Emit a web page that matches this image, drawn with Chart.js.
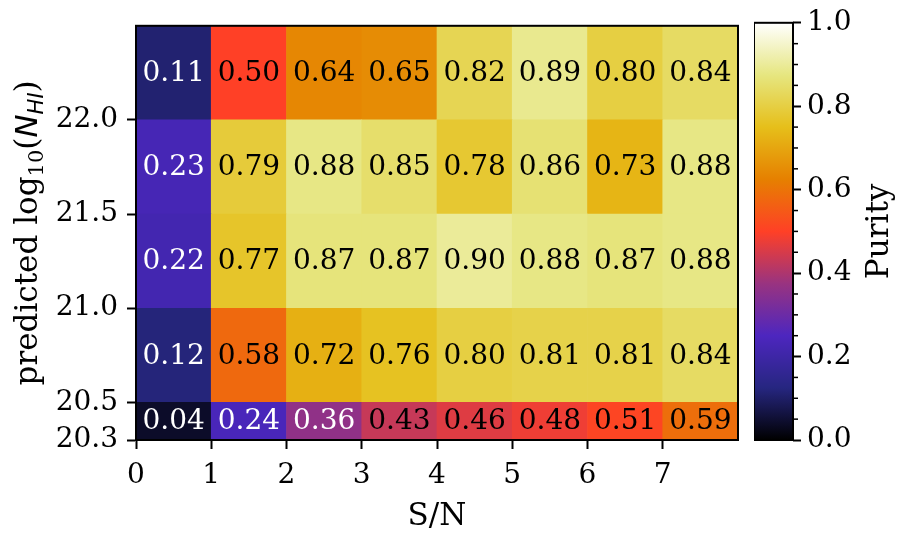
<!DOCTYPE html>
<html>
<head>
<meta charset="utf-8">
<script src="https://cdn.jsdelivr.net/npm/chart.js@4"></script>
<style>
  body { margin: 0; background: #fff; }
  #wrap { position: relative; width: 900px; height: 540px; }
  #heat { position: absolute; left: 0; top: 0; }
  #cbar { position: absolute; left: 754px; top: 0; }
</style>
</head>
<body>
<div id="wrap">
  <canvas id="heat" width="900" height="540"></canvas>
  <canvas id="cbar" width="146" height="540"></canvas>
</div>
<script>
// S/N bin edges (columns) and log10(N_HI) bin edges (rows)
const snEdges = [0, 1, 2, 3, 4, 5, 6, 7, 8];
const nhiEdges = [20.3, 20.5, 21.0, 21.5, 22.0, 22.5];
const xTicks = [0, 1, 2, 3, 4, 5, 6, 7];
const yTicks = [20.3, 20.5, 21.0, 21.5, 22.0];
const cbTicks = [0, 0.2, 0.4, 0.6, 0.8, 1.0];

// purity per row, bottom row first
const row2030 = [0.04, 0.24, 0.36, 0.43, 0.46, 0.48, 0.51, 0.59];
const row2050 = [0.12, 0.58, 0.72, 0.76, 0.80, 0.81, 0.81, 0.84];
const row2100 = [0.22, 0.77, 0.87, 0.87, 0.90, 0.88, 0.87, 0.88];
const row2150 = [0.23, 0.79, 0.88, 0.85, 0.78, 0.86, 0.73, 0.88];
const row2200 = [0.11, 0.50, 0.64, 0.65, 0.82, 0.89, 0.80, 0.84];
const rows = [row2030, row2050, row2100, row2150, row2200];

// matplotlib CMRmap segment data
const cmrPos = [0, 0.125, 0.25, 0.375, 0.5, 0.625, 0.75, 0.875, 1];
const cmrR = [0, 0.15, 0.30, 0.60, 1.00, 0.90, 0.90, 0.90, 1.00];
const cmrG = [0, 0.15, 0.15, 0.20, 0.25, 0.50, 0.75, 0.90, 1.00];
const cmrB = [0, 0.50, 0.75, 0.50, 0.15, 0.00, 0.10, 0.50, 1.00];

function cmr(v) {
    v = Math.max(0, Math.min(1, v));
    let i = Math.min(7, Math.floor(v / 0.125));
    const t = (v - cmrPos[i]) / 0.125;
    const c = arr => Math.round(255 * (arr[i] + (arr[i + 1] - arr[i]) * t));
    return "rgb(" + c(cmrR) + "," + c(cmrG) + "," + c(cmrB) + ")";
}

const serif = "'DejaVu Serif', serif";

const datasets = rows.map(function (vals, r) {
    return {
        data: vals.map((v, c) => ({
            x: (snEdges[c] + snEdges[c + 1]) / 2,
            y: [nhiEdges[r], nhiEdges[r + 1]],
            v: v
        })),
        backgroundColor: vals.map(cmr),
        borderWidth: 0,
        grouped: false,
        barPercentage: 1,
        categoryPercentage: 1
    };
});

// cell annotations + frame
const cellText = {
    id: "cellText",
    afterDatasetsDraw(chart) {
        const ctx = chart.ctx, xs = chart.scales.x, ys = chart.scales.y;
        ctx.save();
        ctx.font = "28px " + serif;
        ctx.textAlign = "center";
        ctx.textBaseline = "middle";
        chart.data.datasets.forEach(ds => {
            ds.data.forEach(p => {
                ctx.fillStyle = p.v < 0.4 ? "#ffffff" : "#000000";
                ctx.fillText(p.v.toFixed(2), xs.getPixelForValue(p.x),
                    ys.getPixelForValue((p.y[0] + p.y[1]) / 2) + 1);
            });
        });
        const a = chart.chartArea;
        ctx.strokeStyle = "#000";
        ctx.lineWidth = 2;
        ctx.strokeRect(a.left, a.top, a.right - a.left, a.bottom - a.top);
        ctx.restore();
    }
};

// axis titles, y title has math sub-scripts
const titles = {
    id: "titles",
    afterDraw(chart) {
        const ctx = chart.ctx, a = chart.chartArea;
        ctx.save();
        ctx.fillStyle = "#000";
        ctx.font = "31px " + serif;
        ctx.textAlign = "center";
        ctx.textBaseline = "alphabetic";
        ctx.fillText("S/N", (a.left + a.right) / 2, 525);

        const parts = [
            { t: "predicted log", f: "31px " + serif, dy: 0 },
            { t: "10", f: "21px " + serif, dy: 6 },
            { t: "(", f: "31px " + serif, dy: 0 },
            { t: "N", f: "italic 31px 'DejaVu Sans', sans-serif", dy: 0 },
            { t: "HI", f: "italic 21px 'DejaVu Sans', sans-serif", dy: 6 },
            { t: ")", f: "31px " + serif, dy: 0 }
        ];
        let total = 0;
        parts.forEach(p => { ctx.font = p.f; p.w = ctx.measureText(p.t).width; total += p.w; });
        ctx.translate(37, (a.top + a.bottom) / 2);
        ctx.rotate(-Math.PI / 2);
        ctx.textAlign = "left";
        let x = -total / 2;
        parts.forEach(p => {
            ctx.font = p.f;
            ctx.fillText(p.t, x, p.dy);
            x += p.w;
        });
        ctx.restore();
    }
};

new Chart(document.getElementById("heat"), {
    type: "bar",
    data: { datasets: datasets },
    options: {
        responsive: false,
        animation: false,
        layout: { padding: { left: 0, right: 162, top: 18, bottom: 0 } },
        plugins: { legend: { display: false }, tooltip: { enabled: false } },
        scales: {
            x: {
                type: "linear",
                offset: false,
                min: snEdges[0],
                max: snEdges[snEdges.length - 1],
                afterBuildTicks: s => { s.ticks = xTicks.map(v => ({ value: v })); },
                afterFit: s => { s.height = 100; },
                ticks: { color: "#000", font: { family: serif, size: 28 }, padding: 10,
                         maxRotation: 0, callback: v => String(v) },
                grid: { offset: false, drawOnChartArea: false, drawTicks: true, tickLength: 9,
                        tickColor: "#000", tickWidth: 2 },
                border: { display: true, color: "#000", width: 2 }
            },
            y: {
                type: "linear",
                min: nhiEdges[0],
                max: nhiEdges[nhiEdges.length - 1],
                afterBuildTicks: s => { s.ticks = yTicks.map(v => ({ value: v })); },
                afterFit: s => { s.width = 136; },
                ticks: { color: "#000", font: { family: serif, size: 28 }, padding: 9,
                         callback: v => Number(v).toFixed(1) },
                grid: { drawOnChartArea: false, drawTicks: true, tickLength: 9,
                        tickColor: "#000", tickWidth: 2 },
                border: { display: true, color: "#000", width: 2 }
            }
        }
    },
    plugins: [cellText, titles]
});

// colorbar
const cbFrame = {
    id: "cbFrame",
    afterDraw(chart) {
        const ctx = chart.ctx, a = chart.chartArea, ys = chart.scales.y;
        ctx.save();
        ctx.strokeStyle = "#000";
        ctx.lineWidth = 1.5;
        for (let k = 1; k < 20; k++) {
            if (k % 4 === 0) continue;
            const py = ys.getPixelForValue(k * 0.05);
            ctx.beginPath();
            ctx.moveTo(a.right, py);
            ctx.lineTo(a.right + 5, py);
            ctx.stroke();
        }
        ctx.lineWidth = 2;
        ctx.strokeRect(a.left, a.top, a.right - a.left, a.bottom - a.top);
        ctx.fillStyle = "#000";
        ctx.font = "31px " + serif;
        ctx.textAlign = "center";
        ctx.textBaseline = "alphabetic";
        ctx.translate(134, (a.top + a.bottom) / 2);
        ctx.rotate(-Math.PI / 2);
        ctx.fillText("Purity", 0, 0);
        ctx.restore();
    }
};

new Chart(document.getElementById("cbar"), {
    type: "bar",
    data: {
        labels: ["cb"],
        datasets: [{
            data: [[0, 1]],
            backgroundColor: function (ctx) {
                const a = ctx.chart.chartArea;
                if (!a) return "#888";
                const g = ctx.chart.ctx.createLinearGradient(0, a.bottom, 0, a.top);
                cmrPos.forEach(p => g.addColorStop(p, cmr(p)));
                return g;
            },
            borderWidth: 0,
            barPercentage: 1,
            categoryPercentage: 1
        }]
    },
    options: {
        responsive: false,
        animation: false,
        layout: { padding: { left: 0, right: 0, top: 18, bottom: 100 } },
        plugins: { legend: { display: false }, tooltip: { enabled: false } },
        scales: {
            x: { display: false },
            y: {
                position: "right",
                min: 0,
                max: 1,
                afterBuildTicks: s => { s.ticks = cbTicks.map(v => ({ value: v })); },
                afterFit: s => { s.width = 107; },
                ticks: { color: "#000", font: { family: serif, size: 28 }, padding: 6,
                         callback: v => Number(v).toFixed(1) },
                grid: { drawOnChartArea: false, drawTicks: true, tickLength: 8,
                        tickColor: "#000", tickWidth: 2 },
                border: { display: false }
            }
        }
    },
    plugins: [cbFrame]
});
</script>
</body>
</html>
